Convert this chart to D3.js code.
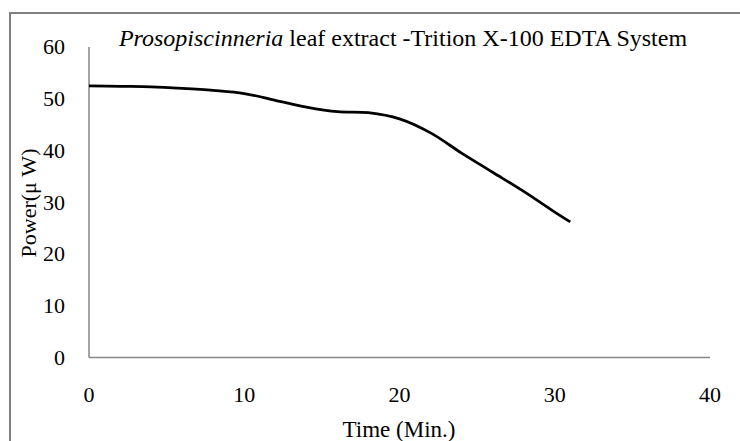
<!DOCTYPE html>
<html>
<head>
<meta charset="utf-8">
<script src="https://cdn.jsdelivr.net/npm/d3@7"></script>
<style>
  body { margin: 0; background: #fff; }
  svg text { font-family: "Liberation Serif", "Times New Roman", serif; }
</style>
</head>
<body>
<script>
// data
var times  = [0, 2, 4, 6, 8, 10, 12, 14, 16, 18, 20, 22, 24, 26, 28, 30, 31];
var powers = [52.5, 52.4, 52.3, 52.0, 51.6, 51.0, 49.7, 48.4, 47.5, 47.3, 46.1, 43.4, 39.5, 35.8, 32.1, 28.1, 26.2];
var xTicks = [0, 10, 20, 30, 40];
var yTicks = [0, 10, 20, 30, 40, 50, 60];

var width = 740, height = 441;

var svg = d3.select("body")
            .append("svg")
            .attr("width", width)
            .attr("height", height);

// outer frame, cut off at right and bottom like the source
svg.append("rect")
   .attr("x", 10)
   .attr("y", 13)
   .attr("width", 760)
   .attr("height", 460)
   .attr("fill", "none")
   .attr("stroke", "#808080")
   .attr("stroke-width", 2);

var x = d3.scaleLinear().domain([0, 40]).range([89, 710]);
var y = d3.scaleLinear().domain([0, 60]).range([357.5, 47]);

// axis lines
svg.append("line")
   .attr("x1", x(0)).attr("x2", x(0))
   .attr("y1", y(60)).attr("y2", y(0))
   .attr("stroke", "#868686").attr("stroke-width", 1.5);

svg.append("line")
   .attr("x1", x(0)).attr("x2", x(40))
   .attr("y1", y(0)).attr("y2", y(0))
   .attr("stroke", "#868686").attr("stroke-width", 1.5);

// tick labels
svg.selectAll("text.ytick")
   .data(yTicks)
   .enter().append("text")
   .attr("class", "ytick")
   .attr("x", 65)
   .attr("y", function(d) { return y(d); })
   .attr("dy", "0.34em")
   .attr("text-anchor", "end")
   .style("font-size", "22px")
   .text(function(d) { return d; });

svg.selectAll("text.xtick")
   .data(xTicks)
   .enter().append("text")
   .attr("class", "xtick")
   .attr("x", function(d) { return x(d); })
   .attr("y", 402)
   .attr("text-anchor", "middle")
   .style("font-size", "22px")
   .text(function(d) { return d; });

// the series
var line = d3.line()
             .x(function(d, i) { return x(times[i]); })
             .y(function(d) { return y(d); })
             .curve(d3.curveCatmullRom);

svg.append("path")
   .datum(powers)
   .attr("d", line)
   .attr("fill", "none")
   .attr("stroke", "#000")
   .attr("stroke-width", 2.75);

// titles
var title = svg.append("text")
               .attr("x", 403)
               .attr("y", 46)
               .attr("text-anchor", "middle")
               .style("font-size", "24px");
title.append("tspan").style("font-style", "italic").text("Prosopiscinneria");
title.append("tspan").text(" leaf extract -Trition X-100 EDTA System");

svg.append("text")
   .attr("x", 399)
   .attr("y", 437)
   .attr("text-anchor", "middle")
   .style("font-size", "23px")
   .text("Time (Min.)");

svg.append("text")
   .attr("transform", "translate(36,203) rotate(-90)")
   .attr("text-anchor", "middle")
   .style("font-size", "22px")
   .text("Power(\u03bc W)");
</script>
</body>
</html>
